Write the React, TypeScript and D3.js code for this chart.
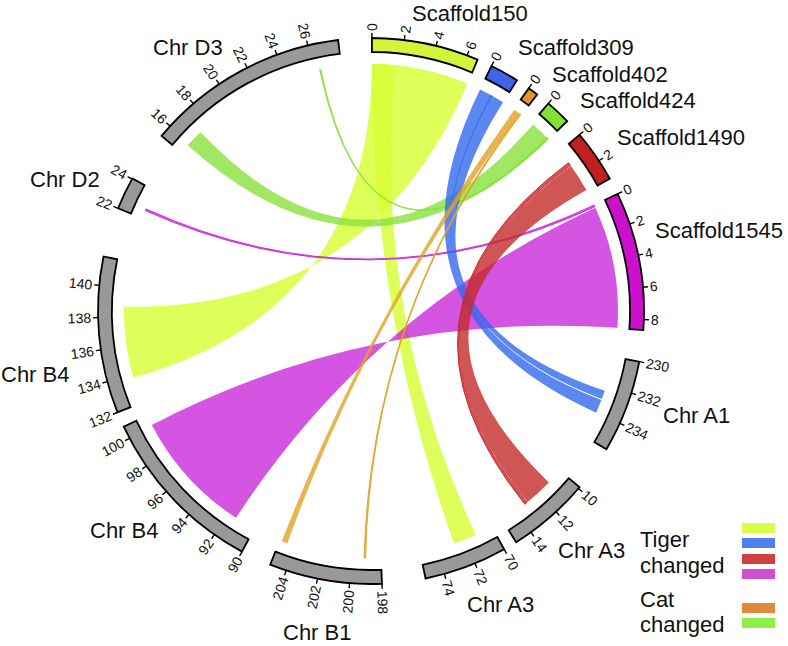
import React from 'react';
import * as d3 from 'd3';

// ---------- DATA ----------
const segNames = ['Scaffold150', 'Scaffold309', 'Scaffold402', 'Scaffold424', 'Scaffold1490', 'Scaffold1545',
  'Chr A1', 'Chr A3', 'Chr A3', 'Chr B1', 'Chr B4', 'Chr B4', 'Chr D2', 'Chr D3'];
const segStart = [0, 0, 0, 0, 0, 0, 230, 9.9, 70, 198, 90, 132, 22, 15.2];
const segEnd = [6.7, 1.8, 0.65, 1.6, 3.3, 8.65, 235.8, 15.1, 75.2, 205.05, 100.8, 141.8, 24.05, 27.9];
const tickStep = 2;

// links: source segment/range -> target segment/range (target given in drawing order)
const linkSrc = [0, 0, 5, 5, 3, 3, 1, 1, 4, 4, 2, 2];
const linkSrcFrom = [0, 0, 0.2, 0, 0.15, 1.45, 0, 0.85, 0.97, 1.25, 0.05, 0.5];
const linkSrcTo = [6.7, 1.6, 8.62, 0.13, 1.6, 1.58, 0.95, 1.8, 1.2, 3.2, 0.5, 0.6];
const linkTgt = [11, 8, 10, 12, 13, 13, 6, 6, 7, 7, 9, 9];
const linkTgtFrom = [138.7, 71.2, 100.1, 22.55, 15.85, 26.4, 233.07, 232.4, 13.02, 11.0, 204.5, 199.05];
const linkTgtTo = [133.8, 72.8, 91.45, 22.68, 17.1, 26.48, 234.0, 233.0, 13.22, 12.97, 204.9, 199.15];
const linkGroup = [0, 0, 3, 3, 5, 5, 1, 1, 2, 2, 4, 4];

const legendTitles = [['Tiger', 'changed'], ['Cat', 'changed']];

// ---------- LAYOUT / STYLE ----------
const W = 788, H = 646;
const CX = 371, CY = 311;
const R_OUT = 273, R_IN = 259, R_RIB = 247;
const DEG_PER_UNIT = 3.4;
const segAngle0 = [0.2, 26.2, 35.3, 40.5, 49.8, 64.6, 100.7, 130.2, 150.8, 177.7, 208.2, 248.2, 292.1, 309.9];
const segFill = ['#d2f53c', '#4062e6', '#e0922e', '#84e034', '#c21f1f', '#cc10cc',
  '#999999', '#999999', '#999999', '#999999', '#999999', '#999999', '#999999', '#999999'];
const ribbonFill = ['#d6ff31', '#3169ec', '#c42a2a', '#c92ad9', '#e2a124', '#88e23d'];
const legendFill = ['#d8ff48', '#4f80f0', '#cf4040', '#d050d2', '#e0893a', '#8cf045'];
const labelPos: [number, number][] = [[412, 21], [518, 55], [552, 82], [580, 108], [617, 145], [655, 238],
  [663, 423], [558, 558], [467, 612], [283, 640], [90, 538], [1, 382], [30, 187], [153, 55]];
const FONT = '"Liberation Sans", Arial, Helvetica, sans-serif';

const toRad = (d: number) => (d * Math.PI) / 180;
const angOf = (seg: number, v: number) => toRad(segAngle0[seg] + (v - segStart[seg]) * DEG_PER_UNIT);
const pt = (a: number, r: number): [number, number] => [r * Math.sin(a), -r * Math.cos(a)];

function ribbonPath(a0: number, a1: number, b0: number, b1: number, r: number): string {
  const p = d3.path();
  const c = (a: number) => a - Math.PI / 2;
  const [x0, y0] = pt(a0, r);
  p.moveTo(x0, y0);
  p.arc(0, 0, r, c(a0), c(a1), a1 < a0);
  const [bx, by] = pt(b0, r);
  p.quadraticCurveTo(0, 0, bx, by);
  p.arc(0, 0, r, c(b0), c(b1), b1 < b0);
  p.quadraticCurveTo(0, 0, x0, y0);
  p.closePath();
  return p.toString();
}

const segArc = d3.arc<any>().innerRadius(R_IN).outerRadius(R_OUT);

export default function App() {
  const ribbons = linkSrc.map((s, i) => {
    const a0 = angOf(s, linkSrcFrom[i]);
    const a1 = angOf(s, linkSrcTo[i]);
    const b0 = angOf(linkTgt[i], linkTgtFrom[i]);
    const b1 = angOf(linkTgt[i], linkTgtTo[i]);
    const thin = Math.abs(linkSrcTo[i] - linkSrcFrom[i]) < 0.3;
    const col = ribbonFill[linkGroup[i]];
    return (
      <path key={'r' + i} d={ribbonPath(a0, a1, b0, b1, R_RIB)} fill={col} fillOpacity={0.8}
        stroke={thin ? col : 'none'} strokeWidth={thin ? 1 : 0} strokeOpacity={0.9} />
    );
  });

  const segs = segNames.map((name, i) => {
    const sa = angOf(i, segStart[i]);
    const ea = angOf(i, segEnd[i]);
    const d = segArc({ startAngle: sa, endAngle: ea }) as string;
    const ticks = d3.range(Math.ceil(segStart[i] / tickStep - 1e-9) * tickStep, segEnd[i] + 1e-9, tickStep);
    return (
      <g key={'s' + i}>
        <path d={d} fill={segFill[i]} stroke="#000" strokeWidth={1.8} strokeLinejoin="miter" />
        {ticks.map((v) => {
          const a = angOf(i, v);
          const [x1, y1] = pt(a, R_OUT);
          const [x2, y2] = pt(a, R_OUT + 5);
          const [tx, ty] = pt(a, R_OUT + 7);
          const deg = (segAngle0[i] + (v - segStart[i]) * DEG_PER_UNIT) % 360;
          const right = deg > 0 && deg < 180;
          const rot = right ? deg - 90 : deg + 90;
          return (
            <g key={v}>
              <line x1={x1} y1={y1} x2={x2} y2={y2} stroke="#000" strokeWidth={1.4} />
              <text transform={`translate(${tx},${ty}) rotate(${rot})`} textAnchor={right ? 'start' : 'end'}
                dominantBaseline="central" fontSize={14} fontFamily={FONT} fill="#111">{v}</text>
            </g>
          );
        })}
      </g>
    );
  });

  const labels = segNames.map((name, i) => (
    <text key={'l' + i} x={labelPos[i][0]} y={labelPos[i][1]} fontSize={22} fontFamily={FONT} fill="#111">{name}</text>
  ));

  const swatchY = [523, 538, 554, 569, 603, 618];
  const swatchGroups = [0, 1, 2, 3, 4, 5];

  return (
    <svg width={W} height={H} style={{ position: 'absolute', left: 0, top: 0, background: '#fff' }}>
      <rect x={0} y={0} width={W} height={H} fill="#fff" />
      <g transform={`translate(${CX},${CY})`}>
        {ribbons}
        {segs}
      </g>
      {labels}
      <g fontFamily={FONT} fontSize={22} fill="#111">
        <text x={640} y={547}>{legendTitles[0][0]}</text>
        <text x={640} y={573}>{legendTitles[0][1]}</text>
        <text x={640} y={607}>{legendTitles[1][0]}</text>
        <text x={640} y={632}>{legendTitles[1][1]}</text>
      </g>
      {swatchGroups.map((g, k) => (
        <rect key={'sw' + k} x={742} y={swatchY[k]} width={33} height={10} fill={legendFill[g]} />
      ))}
    </svg>
  );
}
